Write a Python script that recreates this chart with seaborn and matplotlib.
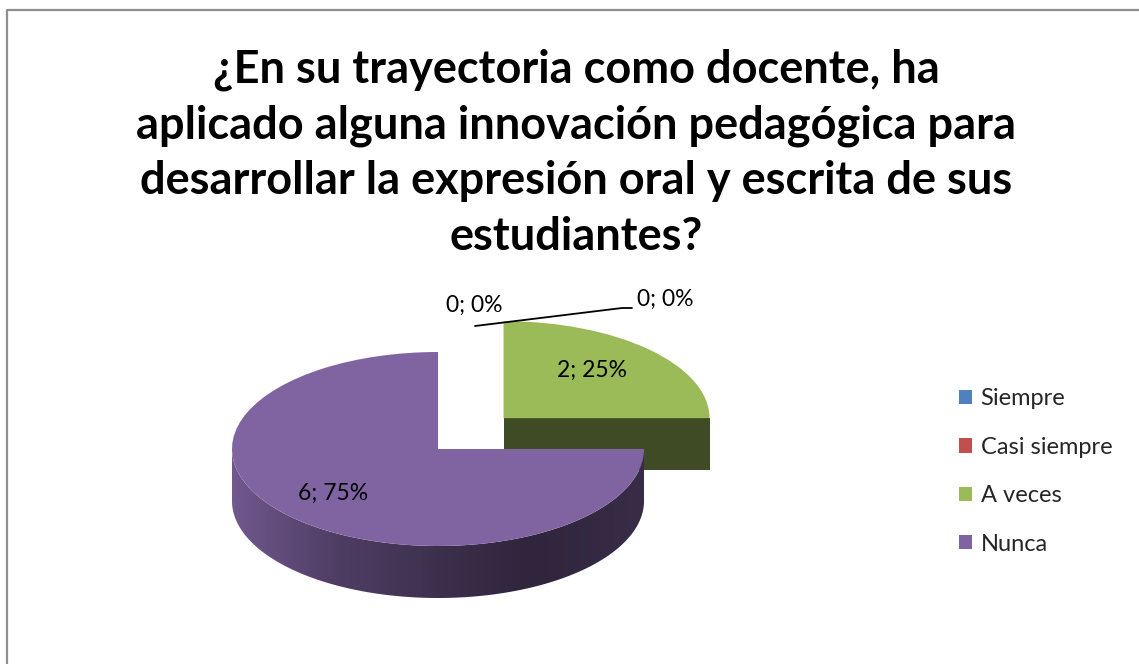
import numpy as np
import matplotlib.pyplot as plt
import seaborn as sns
from matplotlib.patches import Polygon
from matplotlib.lines import Line2D
from matplotlib.colors import to_rgb

# datos del gráfico
categorias = ["Siempre", "Casi siempre", "A veces", "Nunca"]
valores = [0, 0, 2, 6]
colores = ["#4F81BD", "#C0504D", "#9BBB59", "#8064A2"]
separacion = [0, 0, 0.45, 0]
titulo = ("¿En su trayectoria como docente, ha\n"
          "aplicado alguna innovación pedagógica para\n"
          "desarrollar la expresión oral y escrita de sus\n"
          "estudiantes?")

W, H = 1139, 664
sns.set_theme(style="white")
plt.rcParams['font.family'] = ['Lato', 'DejaVu Sans']

fig = plt.figure(figsize=(W / 100, H / 100), dpi=100)


def px(x, y):
    return x / W, 1 - y / H


# un eje que ocupa toda la figura; 1 unidad = rx px en x y ry px en y (pastel aplastado)
cx, cy, rx, ry = 438, 449, 206, 97
prof = 52 / ry
ax = fig.add_axes([0, 0, 1, 1])

paleta = sns.color_palette(colores)
wedges, _ = ax.pie(valores, colors=paleta, startangle=90, counterclock=False,
                   explode=separacion, wedgeprops=dict(linewidth=0))


def sombra(base, f):
    return np.clip(np.array(to_rgb(base)) * f, 0, 1)


# sombreado del borde frontal según la posición horizontal
gx = [-1.0, -0.5, 0.1, 0.45, 1.0]
gf = [0.88, 0.62, 0.45, 0.37, 0.44]
xs = np.linspace(-1, 1, 300)

# de atrás hacia adelante: las porciones con centro más alto se dibujan primero
orden = sorted(range(len(wedges)), key=lambda i: -wedges[i].center[1])
for rango, i in enumerate(orden):
    w = wedges[i]
    if w.theta2 - w.theta1 <= 0:
        continue
    x0, y0 = w.center
    z = 1 + 2 * rango
    base = colores[i]
    # caras radiales visibles
    for a, normal in [(w.theta1, w.theta1 - 90), (w.theta2, w.theta2 + 90)]:
        if np.sin(np.radians(normal)) < -1e-6:
            ca, sa = np.cos(np.radians(a)), np.sin(np.radians(a))
            ax.add_patch(Polygon([(x0, y0), (x0 + ca, y0 + sa), (x0 + ca, y0 + sa - prof), (x0, y0 - prof)],
                                 closed=True, facecolor=sombra(base, 0.4), lw=0, zorder=z))
    # borde curvo frontal (parte con seno negativo), relleno con degradado
    lo = max(w.theta1, -180.0)
    hi = min(w.theta2, 0.0)
    if hi > lo:
        t = np.radians(np.linspace(lo, hi, 300))
        arriba = np.column_stack([x0 + np.cos(t), y0 + np.sin(t)])
        abajo = arriba[::-1] - [0, prof]
        lado = Polygon(np.vstack([arriba, abajo]), closed=True, facecolor='none', lw=0)
        ax.add_patch(lado)
        grad = np.array([sombra(base, np.interp(v, gx, gf)) for v in xs])[None, :, :]
        im = ax.imshow(grad, extent=[x0 - 1, x0 + 1, y0 - 1 - prof, y0], aspect='auto',
                       interpolation='bilinear', zorder=z)
        im.set_clip_path(lado)
    w.set_zorder(z + 1)

ax.set_aspect('auto')
ax.set_xlim(-cx / rx, (W - cx) / rx)
ax.set_ylim(-(H - cy) / ry, cy / ry)
ax.axis('off')

# etiquetas de datos
total = sum(valores)
etiquetas = [f"{v}; {round(100 * v / total)}%" for v in valores]
pos_etq = [(474, 305), (665, 299), (592, 370), (333, 493)]
for txt, (x, y) in zip(etiquetas, pos_etq):
    fig.text(*px(x, y), txt, ha='center', va='center', fontsize=16.5, color='black')

# línea guía de las etiquetas en cero
lx = [475, 622, 632]
ly = [326, 308, 308]
fig.add_artist(Line2D([x / W for x in lx], [1 - y / H for y in ly], color='black', lw=1.3))

# título
fig.text(*px(576, 153), titulo, ha='center', va='center', fontsize=32.5, fontweight='bold',
         linespacing=1.4, color='black')

# leyenda
fig.legend(wedges, categorias, loc='upper left', bbox_to_anchor=px(950, 379), frameon=False,
           fontsize=17, handlelength=0.55, handleheight=0.55, labelspacing=1.16,
           handletextpad=0.35, borderaxespad=0)

# borde del área del gráfico (sólo se ven el lado superior e izquierdo)
fig.add_artist(Line2D([7 / W, 7 / W, 1], [0, 1 - 10 / H, 1 - 10 / H], color='#8f8f8f', lw=1.6))

fig.savefig("out.png", dpi=100)
